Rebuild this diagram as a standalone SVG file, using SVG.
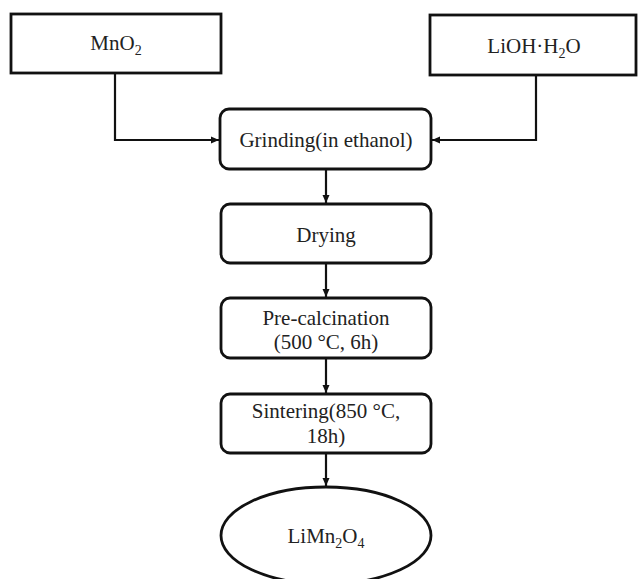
<svg xmlns="http://www.w3.org/2000/svg" width="638" height="579" viewBox="0 0 638 579">
  <defs>
    <marker id="arrow" markerWidth="9" markerHeight="9" refX="8" refY="4.5" orient="auto" markerUnits="userSpaceOnUse">
      <path d="M0,1 L8,4.5 L0,8 Z" fill="#111"/>
    </marker>
    <style>
      .box { fill: #fff; stroke: #111; stroke-width: 2.8; }
      .lbl { font-family: "Liberation Serif", "Times New Roman", serif; font-size: 21px; fill: #222; text-anchor: middle; }
      .sub { font-size: 14px; }
      .link { fill: none; stroke: #111; stroke-width: 2.2; marker-end: url(#arrow); }
    </style>
  </defs>
  <rect width="638" height="579" fill="#fff"/>

  <g id="mno2">
    <rect class="box" x="11" y="14" width="210" height="59"/>
    <text class="lbl" x="116" y="50">MnO<tspan class="sub" dy="5">2</tspan></text>
  </g>

  <g id="lioh">
    <rect class="box" x="430" y="15" width="206" height="60"/>
    <text class="lbl" x="534" y="53">LiOH·H<tspan class="sub" dy="5">2</tspan><tspan dy="-5">O</tspan></text>
  </g>

  <g id="grinding">
    <rect class="box" x="220" y="109" width="211" height="60" rx="9"/>
    <text class="lbl" x="326" y="147">Grinding(in ethanol)</text>
  </g>

  <g id="drying">
    <rect class="box" x="221" y="204" width="210" height="59" rx="9"/>
    <text class="lbl" x="326" y="242">Drying</text>
  </g>

  <g id="precalcination">
    <rect class="box" x="221" y="298" width="210" height="60" rx="9"/>
    <text class="lbl" x="326" y="325">Pre-calcination</text>
    <text class="lbl" x="326" y="349">(500 °C, 6h)</text>
  </g>

  <g id="sintering">
    <rect class="box" x="221" y="394" width="210" height="59" rx="9"/>
    <text class="lbl" x="326" y="418">Sintering(850 °C,</text>
    <text class="lbl" x="326" y="443">18h)</text>
  </g>

  <g id="limn2o4">
    <ellipse class="box" cx="326" cy="535.5" rx="105" ry="48.5"/>
    <text class="lbl" x="326" y="543">LiMn<tspan class="sub" dy="5">2</tspan><tspan dy="-5">O</tspan><tspan class="sub" dy="5">4</tspan></text>
  </g>

  <g id="connectors">
    <path class="link" d="M115,73 V140 H219"/>
    <path class="link" d="M536,75 V140 H432"/>
    <path class="link" d="M326,169 V203"/>
    <path class="link" d="M326,263 V297"/>
    <path class="link" d="M326,358 V393"/>
    <path class="link" d="M326,453 V486"/>
  </g>
</svg>
